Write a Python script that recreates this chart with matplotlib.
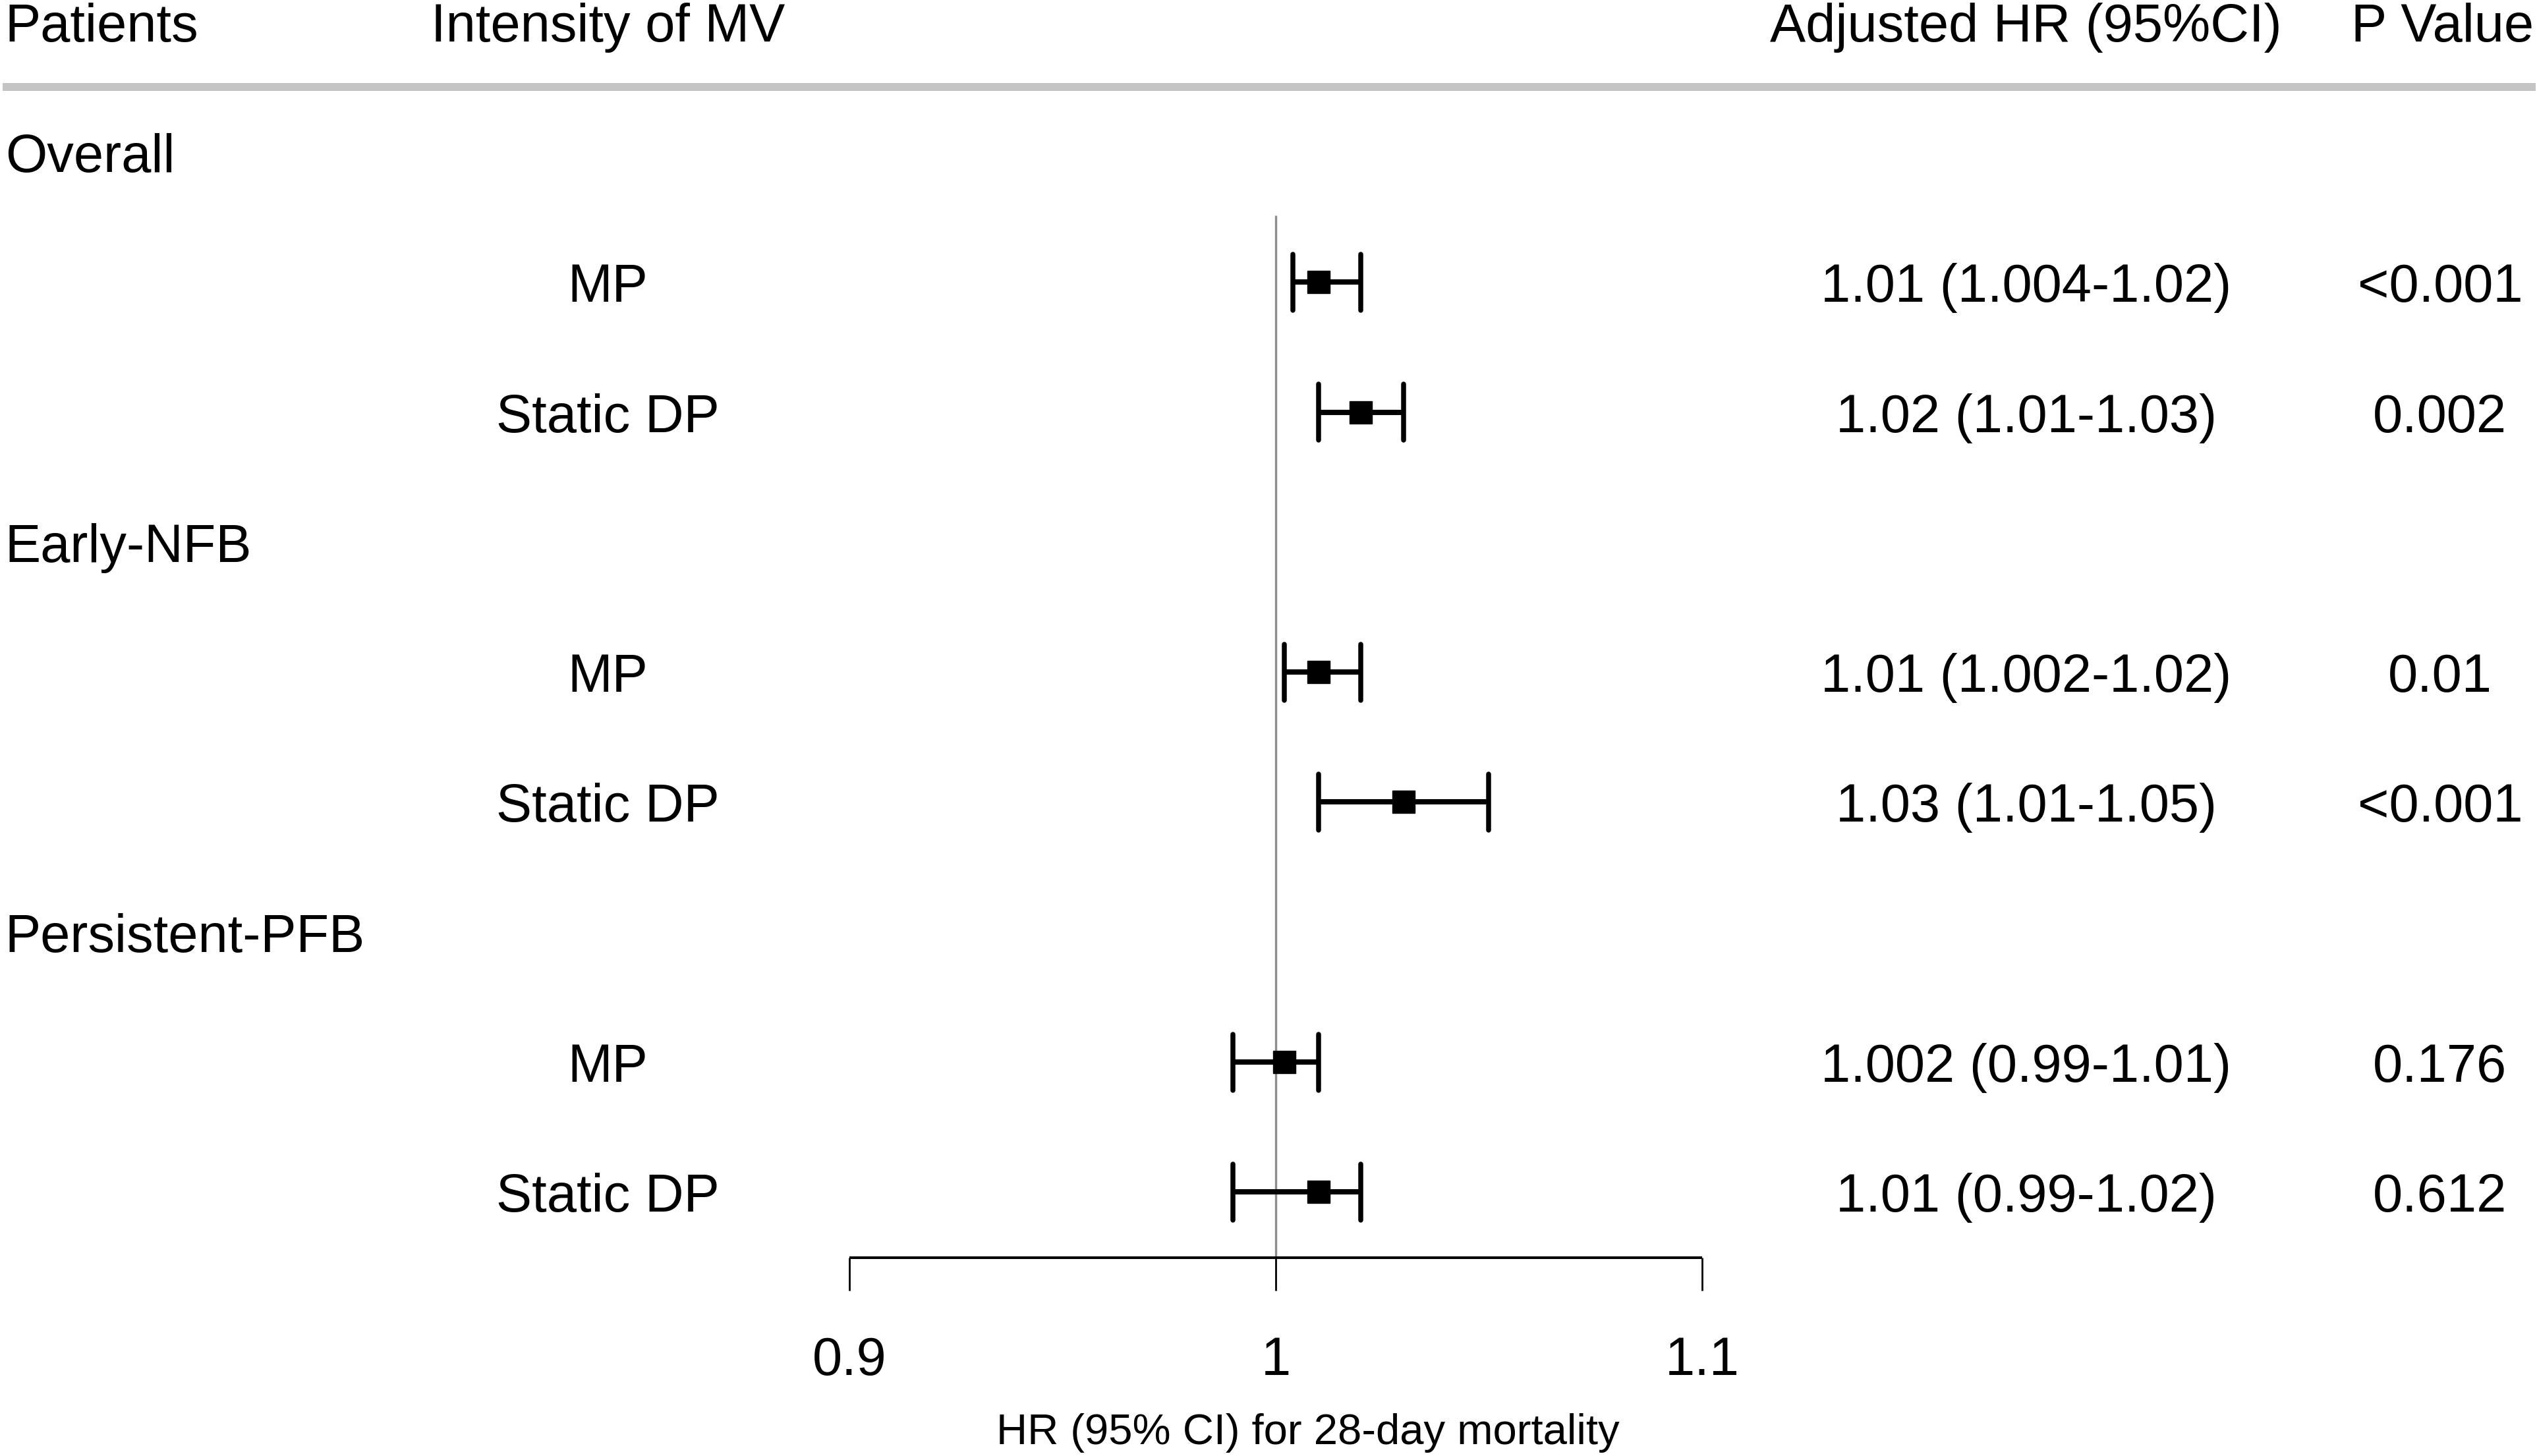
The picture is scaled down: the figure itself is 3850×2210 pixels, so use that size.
import matplotlib
matplotlib.use("Agg")
import matplotlib.pyplot as plt
from matplotlib import transforms

plt.rcParams['font.family'] = ['Liberation Sans', 'DejaVu Sans']

# table rows, top to bottom
groups = ['Overall', None, None, 'Early-NFB', None, None, 'Persistent-PFB', None, None]
measures = [None, 'MP', 'Static DP', None, 'MP', 'Static DP', None, 'MP', 'Static DP']
hr = [None, 1.01, 1.02, None, 1.01, 1.03, None, 1.002, 1.01]
ci_low = [None, 1.004, 1.01, None, 1.002, 1.01, None, 0.99, 0.99]
ci_high = [None, 1.02, 1.03, None, 1.02, 1.05, None, 1.01, 1.02]
hr_text = [None, '1.01 (1.004-1.02)', '1.02 (1.01-1.03)', None,
           '1.01 (1.002-1.02)', '1.03 (1.01-1.05)', None,
           '1.002 (0.99-1.01)', '1.01 (0.99-1.02)']
p_text = [None, '<0.001', '0.002', None, '0.01', '<0.001', None, '0.176', '0.612']

headers = ['Patients', 'Intensity of MV', 'Adjusted HR (95%CI)', 'P Value']
ticks = [0.9, 1.0, 1.1]
tick_labels = ['0.9', '1', '1.1']
xlabel = 'HR (95% CI) for 28-day mortality'

fig = plt.figure(figsize=(38.5, 22.1), dpi=100)
ax = fig.add_axes([0, 0, 1, 1])
ax.set_xlim(0.70077, 1.29583)
ax.set_ylim(10.03, -1.17)
ax.axis('off')

blend = transforms.blended_transform_factory(ax.transAxes, ax.transData)
fs = 58.5
off = 0.152  # baseline offset from row centre

# header
ax.text(0.002, -0.851, headers[0], transform=blend, fontsize=fs, ha='left', va='baseline')
ax.text(0.170, -0.851, headers[1], transform=blend, fontsize=fs, ha='left', va='baseline')
ax.text(0.7986, -0.851, headers[2], transform=blend, fontsize=fs, ha='center', va='baseline')
ax.text(0.9627, -0.851, headers[3], transform=blend, fontsize=fs, ha='center', va='baseline')
ax.plot([0.001, 0.9995], [-0.50, -0.50], transform=blend, color='#c4c4c4', lw=8.6,
        solid_capstyle='butt')

# reference line at HR = 1
ax.vlines(1.0, 0.486, 8.506, color='#8c8c8c', lw=2.4)

for i in range(len(groups)):
    if groups[i]:
        ax.text(0.002, i + off, groups[i], transform=blend, fontsize=fs, ha='left', va='baseline')
    if measures[i]:
        ax.text(0.2395, i + off, measures[i], transform=blend, fontsize=fs, ha='center', va='baseline')
    if hr_text[i]:
        ax.text(0.7987, i + off, hr_text[i], transform=blend, fontsize=fs, ha='center', va='baseline')
    if p_text[i]:
        ax.text(0.9618, i + off, p_text[i], transform=blend, fontsize=fs, ha='center', va='baseline')
    if hr[i] is not None:
        ax.hlines(i, ci_low[i], ci_high[i], color='black', lw=5.8)
        ax.vlines([ci_low[i], ci_high[i]], i - 0.215, i + 0.215, color='black', lw=5.4,
                  capstyle='round')
        ax.plot(hr[i], i, marker='s', markersize=24, color='black', zorder=5)

# x axis drawn under the table
ax.hlines(8.506, ticks[0], ticks[-1], color='black', lw=2.9)
ax.vlines(ticks, 8.506, 8.759, color='black', lw=2.0)
for t, lab in zip(ticks, tick_labels):
    ax.text(t, 9.407, lab, fontsize=fs, ha='center', va='baseline')
ax.text(1.0076, 9.939, xlabel, fontsize=47, ha='center', va='baseline')

fig.savefig('out.png', dpi=100, facecolor='white')
